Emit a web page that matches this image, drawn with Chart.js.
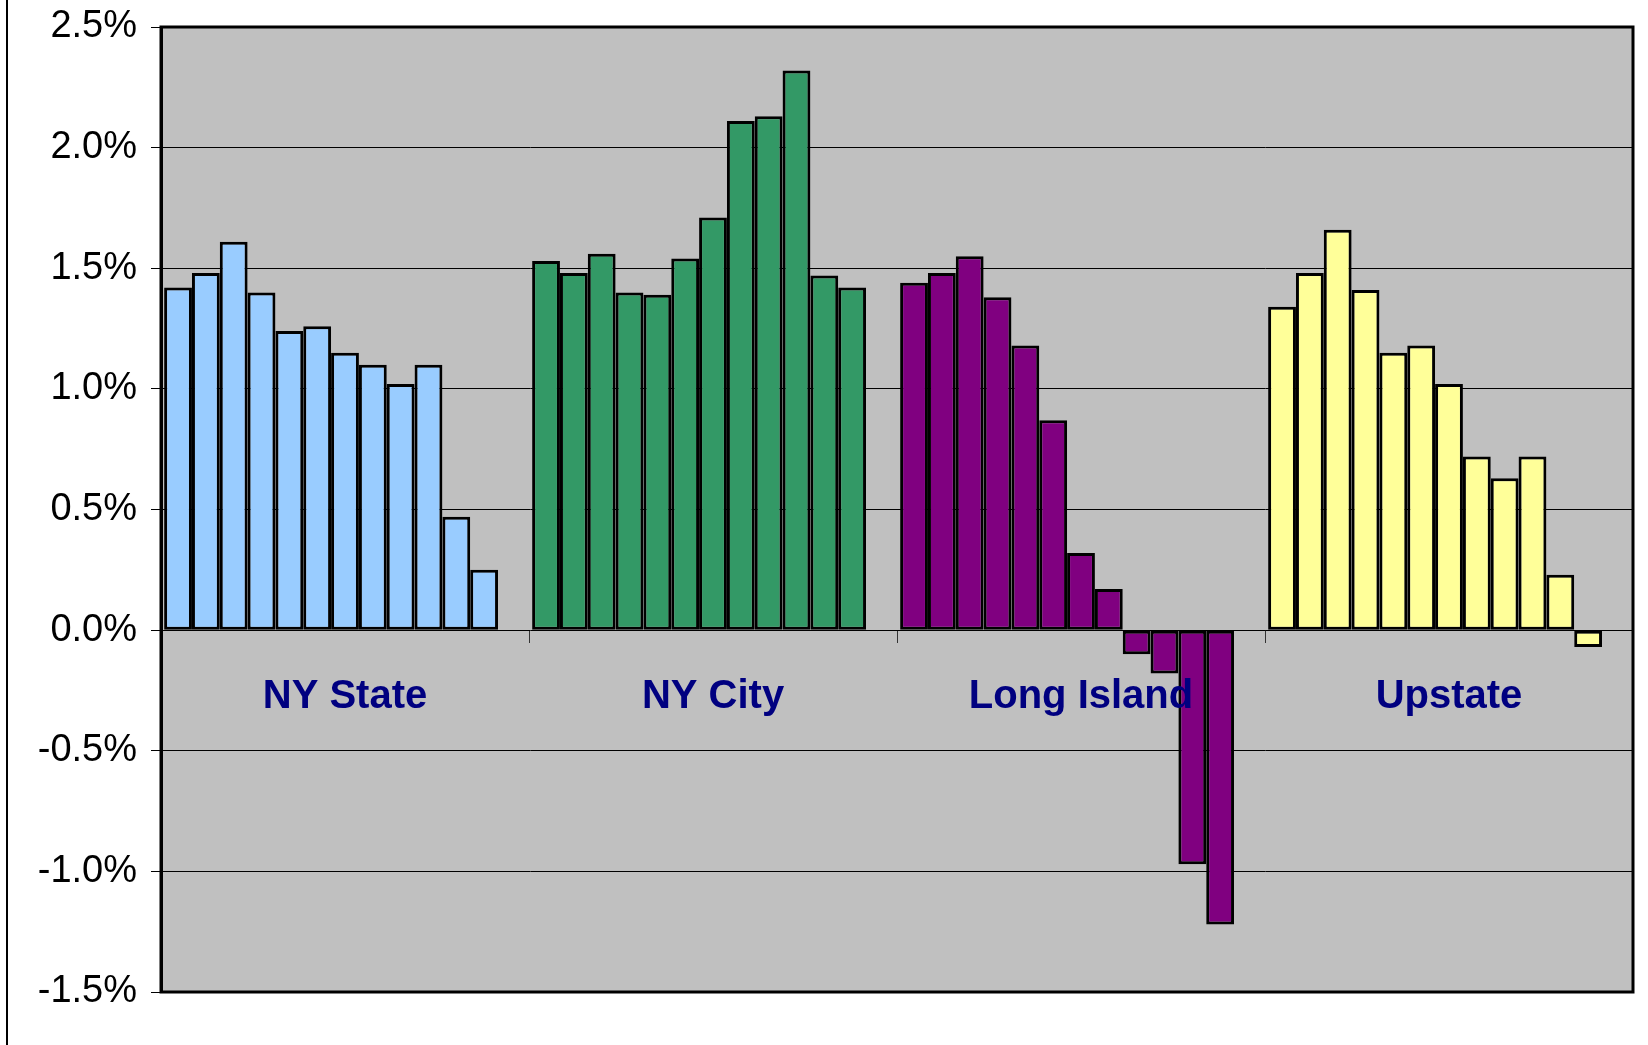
<!DOCTYPE html>
<html>
<head>
<meta charset="utf-8">
<title>Growth by region</title>
<script src="https://cdn.jsdelivr.net/npm/chart.js@4/dist/chart.umd.min.js"></script>
<style>
  html, body { margin: 0; padding: 0; background: #fff; }
  #wrap { position: relative; width: 1648px; height: 1045px; }
  #edge { position: absolute; left: 6px; top: 0; width: 0; height: 1045px; border-left: 2px solid #000; }
</style>
</head>
<body>
<div id="wrap">
  <canvas id="chart" width="1648" height="1045"></canvas>
  <div id="edge"></div>
</div>
<script>
// regions along the x axis
const regions = ['NY State', 'NY City', 'Long Island', 'Upstate'];
const regionColors = ['#99CCFF', '#339966', '#800080', '#FFFF99'];

// 12 periods per region, percent change
const nyState    = [1.42, 1.48, 1.61, 1.40, 1.24, 1.26, 1.15, 1.10, 1.02, 1.10, 0.47, 0.25];
const nyCity     = [1.53, 1.48, 1.56, 1.40, 1.39, 1.54, 1.71, 2.11, 2.13, 2.32, 1.47, 1.42];
const longIsland = [1.44, 1.48, 1.55, 1.38, 1.18, 0.87, 0.32, 0.17, -0.10, -0.18, -0.97, -1.22];
const upstate    = [1.34, 1.48, 1.66, 1.41, 1.15, 1.18, 1.02, 0.72, 0.63, 0.72, 0.23, -0.07];

const yMin = -1.5, yMax = 2.5, yStep = 0.5;

const FONT = "'Liberation Sans', Arial, sans-serif";

// one dataset per period; the extra empty slot keeps the gap at the right of each group
const datasets = nyState.map((v, i) => ({
    label: 'P' + (i + 1),
    data: [nyState[i], nyCity[i], longIsland[i], upstate[i]],
    backgroundColor: regionColors,
    borderColor: '#000',
    borderWidth: 3,
    borderSkipped: false
}));
datasets.push({ label: '', data: [null, null, null, null], backgroundColor: regionColors });

const plotFrame = {
    id: 'plotFrame',
    beforeDraw(chart) {
        const { ctx, chartArea: a } = chart;
        ctx.save();
        ctx.fillStyle = '#C0C0C0';
        ctx.fillRect(a.left, a.top, a.right - a.left, a.bottom - a.top);
        ctx.restore();
    },
    afterDraw(chart) {
        const { ctx, chartArea: a } = chart;
        ctx.save();
        ctx.strokeStyle = '#000';
        ctx.lineWidth = 3;
        ctx.strokeRect(a.left, a.top, a.right - a.left, a.bottom - a.top);
        ctx.restore();
    }
};

new Chart(document.getElementById('chart'), {
    type: 'bar',
    data: { labels: regions, datasets: datasets },
    options: {
        responsive: false,
        animation: false,
        devicePixelRatio: 1,
        categoryPercentage: 0.983,
        barPercentage: 1,
        layout: { padding: { left: 0, top: 27, right: 15, bottom: 53 } },
        plugins: {
            legend: { display: false },
            tooltip: { enabled: false }
        },
        scales: {
            x: {
                position: { y: 0 },
                border: { display: false },
                grid: {
                    offset: true,
                    drawOnChartArea: false,
                    drawTicks: true,
                    tickLength: 13,
                    tickColor: '#333',
                    tickWidth: 1
                },
                ticks: {
                    z: 1, // labels sit on top of the bars
                    color: '#000080',
                    padding: 30,
                    maxRotation: 0,
                    font: { family: FONT, size: 40, weight: 'bold' }
                }
            },
            y: {
                min: yMin,
                max: yMax,
                afterFit(scale) {
                    scale.width = 161;
                    scale.paddingTop = 0;
                    scale.paddingBottom = 0;
                },
                border: { display: true, color: '#000', width: 3 },
                grid: {
                    color: '#000',
                    lineWidth: 1,
                    drawTicks: true,
                    tickLength: 10,
                    tickColor: '#000'
                },
                ticks: {
                    stepSize: yStep,
                    color: '#000',
                    padding: 14,
                    font: { family: FONT, size: 38 },
                    callback: (v) => v.toFixed(1) + '%'
                }
            }
        }
    },
    plugins: [plotFrame]
});
</script>
</body>
</html>
